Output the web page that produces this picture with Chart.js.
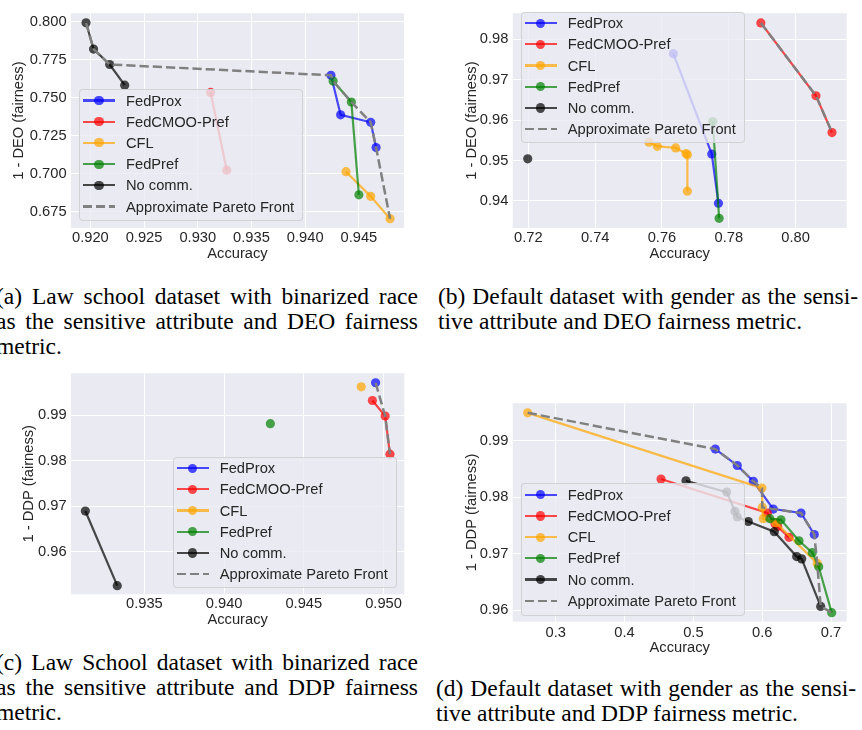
<!DOCTYPE html>
<html>
<head>
<meta charset="utf-8">
<script src="https://cdn.jsdelivr.net/npm/chart.js@4.4.1/dist/chart.umd.min.js"></script>
<style>
  body { margin: 0; width: 862px; height: 730px; background: #fff; position: relative; overflow: hidden; }
  canvas.panel { position: absolute; }
  .legend { position: absolute; box-sizing: border-box; background: rgba(234,234,242,0.8);
            border: 1px solid rgba(204,204,204,0.8); border-radius: 4px;
            font: 14.7px "Liberation Sans", Arial, sans-serif; color: #262626; }
  .legend div, .legend span { position: absolute; }
  .legend span { left: 46px; height: 18px; line-height: 18px; white-space: nowrap; }
  .cap { position: absolute; font-family: "Liberation Serif", serif; font-size: 23.5px; color: #000; }
  .cap .ln { height: 25.3px; line-height: 25.3px; white-space: nowrap; }
  .cap .full { display: flex; justify-content: space-between; }
</style>
</head>
<body>
<canvas id="pa" class="panel" width="420" height="270" style="left:0;top:0"></canvas>
<canvas id="pb" class="panel" width="432" height="270" style="left:430px;top:0"></canvas>
<canvas id="pc" class="panel" width="420" height="280" style="left:0;top:360px"></canvas>
<canvas id="pd" class="panel" width="432" height="270" style="left:430px;top:390px"></canvas>
<script>
// series names (legend order)
const seriesNames = ['FedProx', 'FedCMOO-Pref', 'CFL', 'FedPref', 'No comm.'];
const paretoName = 'Approximate Pareto Front';

// (a) Law school, DEO  -- [accuracy, 1 - DEO]
const aFedProx = [[0.9424, 0.7647], [0.9433, 0.7387], [0.9461, 0.7338], [0.9466, 0.7172]];
const aFedCMOO = [[0.9312, 0.7534], [0.9327, 0.7023]];
const aCFL     = [[0.9438, 0.7013], [0.9461, 0.6851], [0.9479, 0.6704]];
const aFedPref = [[0.9426, 0.7609], [0.9443, 0.7471], [0.9450, 0.6861]];
const aNoComm  = [[0.9196, 0.7992], [0.9203, 0.7819], [0.9218, 0.7718], [0.9232, 0.7582]];
const aPareto  = [[0.9196, 0.7992], [0.9203, 0.7819], [0.9218, 0.7718], [0.9424, 0.7647], [0.9426, 0.7609],
                  [0.9443, 0.7471], [0.9461, 0.7338], [0.9466, 0.7172], [0.9479, 0.6704]];
const aXTicks = ['0.920', '0.925', '0.930', '0.935', '0.940', '0.945'];
const aYTicks = ['0.675', '0.700', '0.725', '0.750', '0.775', '0.800'];

// (b) Default, DEO
const bFedProx = [[0.7634, 0.9764], [0.7749, 0.9516], [0.7769, 0.9394]];
const bFedCMOO = [[0.7896, 0.9840], [0.8061, 0.9660], [0.8109, 0.9569]];
const bCFL     = [[0.7561, 0.9545], [0.7586, 0.9535], [0.7641, 0.9531], [0.7672, 0.9517], [0.7676, 0.9514], [0.7676, 0.9424]];
const bFedPref = [[0.7752, 0.9596], [0.7771, 0.9357]];
const bNoComm  = [[0.7198, 0.9504]];
const bPareto  = [[0.7896, 0.9840], [0.8061, 0.9660], [0.8109, 0.9569]];
const bXTicks = ['0.72', '0.74', '0.76', '0.78', '0.80'];
const bYTicks = ['0.94', '0.95', '0.96', '0.97', '0.98'];

// (c) Law school, DDP
const cFedProx = [[0.9495, 0.9971]];
const cFedCMOO = [[0.9493, 0.9932], [0.9501, 0.9898], [0.9504, 0.9814]];
const cCFL     = [[0.9486, 0.9962]];
const cFedPref = [[0.9429, 0.9881]];
const cNoComm  = [[0.9313, 0.9689], [0.9333, 0.9525]];
const cPareto  = [[0.9495, 0.9971], [0.9501, 0.9898], [0.9504, 0.9814]];
const cXTicks = ['0.935', '0.940', '0.945', '0.950'];
const cYTicks = ['0.96', '0.97', '0.98', '0.99'];

// (d) Default, DDP
const dFedProx = [[0.5319, 0.9885], [0.5638, 0.9856], [0.5871, 0.9828], [0.6161, 0.9779], [0.6564, 0.9772], [0.6757, 0.9734]];
const dFedCMOO = [[0.4530, 0.9832], [0.6075, 0.9772], [0.6186, 0.9753], [0.6225, 0.9748], [0.6390, 0.9729]];
const dCFL     = [[0.2593, 0.9949], [0.5997, 0.9816], [0.6002, 0.9782], [0.6016, 0.9762], [0.6200, 0.9755], [0.6800, 0.9683]];
const dFedPref = [[0.6113, 0.9762], [0.6273, 0.9760], [0.6535, 0.9723], [0.6728, 0.9702], [0.6821, 0.9677], [0.7010, 0.9596]];
const dNoComm  = [[0.4893, 0.9829], [0.5484, 0.9809], [0.5605, 0.9775], [0.5638, 0.9765], [0.5798, 0.9757],
                  [0.6176, 0.9739], [0.6501, 0.9695], [0.6574, 0.9691], [0.6850, 0.9607]];
const dPareto  = [[0.2593, 0.9949], [0.5319, 0.9885], [0.5638, 0.9856], [0.5871, 0.9828], [0.5997, 0.9816],
                  [0.6002, 0.9782], [0.6161, 0.9779], [0.6564, 0.9772], [0.6757, 0.9734], [0.6800, 0.9683],
                  [0.6850, 0.9607], [0.7010, 0.9596]];
const dXTicks = ['0.3', '0.4', '0.5', '0.6', '0.7'];
const dYTicks = ['0.96', '0.97', '0.98', '0.99'];

const seriesColors = ['rgba(0,0,255,0.7)', 'rgba(255,0,0,0.7)', 'rgba(255,165,0,0.7)', 'rgba(0,128,0,0.7)', 'rgba(0,0,0,0.7)'];
const paretoColor = '#808080';
const txtColor = '#262626';
const axisFont = { family: '"Liberation Sans", Arial, sans-serif', size: 14.7 };

// seaborn darkgrid background
const bgPlugin = {
    id: 'bg',
    beforeDraw(chart) {
        const { ctx, chartArea: a } = chart;
        ctx.save();
        ctx.fillStyle = '#EAEAF2';
        ctx.fillRect(a.left, a.top, a.right - a.left, a.bottom - a.top);
        ctx.restore();
    }
};

function toXY(pts) {
    return pts.map(p => ({ x: p[0], y: p[1] }));
}

function makeChart(p) {
    const datasets = p.series.map((pts, i) => ({
        label: seriesNames[i],
        data: toXY(pts),
        showLine: true,
        borderColor: seriesColors[i],
        backgroundColor: seriesColors[i],
        pointBackgroundColor: seriesColors[i],
        pointBorderWidth: 0,
        pointRadius: 4.6,
        borderWidth: 2.2,
        order: 5 - i
    }));
    datasets.push({
        label: paretoName,
        data: toXY(p.pareto),
        showLine: true,
        borderColor: paretoColor,
        borderWidth: 2.5,
        borderDash: [9.25, 4],
        pointRadius: 0,
        order: 0
    });

    const axis = (ticks, min, max, title, isX) => ({
        type: 'linear',
        min: min,
        max: max,
        afterBuildTicks: s => { s.ticks = ticks.map(t => ({ value: parseFloat(t) })); },
        afterFit: s => { if (isX) s.height = p.xH; else s.width = p.yW; },
        ticks: {
            callback: (v, i) => ticks[i],
            font: axisFont,
            color: txtColor,
            padding: isX ? p.xTickPad : 4.4,
            autoSkip: false,
            maxRotation: 0
        },
        grid: { color: '#ffffff', lineWidth: 1, drawTicks: false },
        border: { display: false },
        title: {
            display: true,
            text: title,
            font: axisFont,
            color: txtColor,
            padding: isX ? { top: 0, bottom: p.xTitlePad } : { top: p.yTitlePad, bottom: 0 }
        }
    });

    new Chart(document.getElementById(p.id), {
        type: 'scatter',
        data: { datasets: datasets },
        options: {
            responsive: false,
            animation: false,
            devicePixelRatio: 1,
            layout: { padding: { top: p.padTop, right: p.padRight, bottom: 0, left: 0 } },
            plugins: { legend: { display: false }, tooltip: { enabled: false } },
            scales: {
                x: axis(p.xTicks, p.xRange[0], p.xRange[1], 'Accuracy', true),
                y: axis(p.yTicks, p.yRange[0], p.yRange[1], p.yTitle, false)
            }
        },
        plugins: [bgPlugin]
    });
}

makeChart({ id: 'pa', series: [aFedProx, aFedCMOO, aCFL, aFedPref, aNoComm], pareto: aPareto,
    xTicks: aXTicks, yTicks: aYTicks, xRange: [0.9182, 0.9492], yRange: [0.6643, 0.8055],
    yTitle: '1 - DEO (fairness)', padTop: 4, padRight: 16, yW: 71, xH: 42,
    xTickPad: 1, xTitlePad: 7.2, yTitlePad: 9.9 });

makeChart({ id: 'pb', series: [bFedProx, bFedCMOO, bCFL, bFedPref, bNoComm], pareto: bPareto,
    xTicks: bXTicks, yTicks: bYTicks, xRange: [0.7153, 0.8153], yRange: [0.9333, 0.9864],
    yTitle: '1 - DEO (fairness)', padTop: 4, padRight: 15.3, yW: 82.7, xH: 42,
    xTickPad: 1, xTitlePad: 7.2, yTitlePad: 32.9 });

makeChart({ id: 'pc', series: [cFedProx, cFedCMOO, cCFL, cFedPref, cNoComm], pareto: cPareto,
    xTicks: cXTicks, yTicks: cYTicks, xRange: [0.9304, 0.9513], yRange: [0.9506, 0.9992],
    yTitle: '1 - DDP (fairness)', padTop: 11, padRight: 15.7, yW: 71, xH: 45.7,
    xTickPad: 1.2, xTitlePad: 11.2, yTitlePad: 19.9 });

makeChart({ id: 'pd', series: [dFedProx, dFedCMOO, dCFL, dFedPref, dNoComm], pareto: dPareto,
    xTicks: dXTicks, yTicks: dYTicks, xRange: [0.2375, 0.7228], yRange: [0.958, 0.9966],
    yTitle: '1 - DDP (fairness)', padTop: 7.3, padRight: 15.3, yW: 82.7, xH: 38.3,
    xTickPad: 2.3, xTitlePad: 2.9, yTitlePad: 32.9 });

// legends drawn over the plot (semi-transparent, like matplotlib framealpha 0.8)
function makeLegend(left, top, w, h) {
    const box = document.createElement('div');
    box.className = 'legend';
    Object.assign(box.style, { left: left + 'px', top: top + 'px', width: w + 'px', height: h + 'px' });
    const names = seriesNames.concat([paretoName]);
    names.forEach((name, i) => {
        const cy = 10.5 + i * 21.2;
        const line = document.createElement('div');
        if (i < seriesNames.length) {
            Object.assign(line.style, { left: '3px', width: '32px', top: (cy - 1.1) + 'px', height: '2.2px', background: seriesColors[i] });
            box.appendChild(line);
            const dot = document.createElement('div');
            Object.assign(dot.style, { left: (19 - 4.6) + 'px', top: (cy - 4.6) + 'px', width: '9.2px', height: '9.2px',
                borderRadius: '50%', background: seriesColors[i] });
            box.appendChild(dot);
        } else {
            Object.assign(line.style, { left: '3px', width: '32px', top: (cy - 1.25) + 'px', height: '2.5px',
                background: 'repeating-linear-gradient(to right, ' + paretoColor + ' 0 9.25px, transparent 9.25px 13.25px)' });
            box.appendChild(line);
        }
        const label = document.createElement('span');
        label.textContent = name;
        label.style.top = (cy - 9) + 'px';
        box.appendChild(label);
    });
    document.body.appendChild(box);
}

makeLegend(79, 89, 224, 132);
makeLegend(520.7, 11.7, 224.3, 131.6);
makeLegend(172.7, 456.7, 224, 131);
makeLegend(520.7, 483.3, 224.3, 132.7);

// sub-figure captions (justified lines, last line ragged)
function makeCaption(left, top, w, lines) {
    const cap = document.createElement('div');
    cap.className = 'cap';
    Object.assign(cap.style, { left: left + 'px', top: top + 'px', width: w + 'px' });
    lines.forEach((txt, i) => {
        const ln = document.createElement('div');
        ln.className = 'ln';
        if (i < lines.length - 1) {
            ln.classList.add('full');
            txt.split(' ').forEach(word => {
                const s = document.createElement('span');
                s.textContent = word;
                ln.appendChild(s);
            });
        } else {
            ln.textContent = txt;
        }
        cap.appendChild(ln);
    });
    document.body.appendChild(cap);
}

makeCaption(-4, 283.5, 422, ['(a) Law school dataset with binarized race', 'as the sensitive attribute and DEO fairness', 'metric.']);
makeCaption(438, 283.5, 420, ['(b) Default dataset with gender as the sensi-', 'tive attribute and DEO fairness metric.']);
makeCaption(-4, 649.5, 422, ['(c) Law School dataset with binarized race', 'as the sensitive attribute and DDP fairness', 'metric.']);
makeCaption(436, 675.5, 420, ['(d) Default dataset with gender as the sensi-', 'tive attribute and DDP fairness metric.']);
</script>
</body>
</html>
